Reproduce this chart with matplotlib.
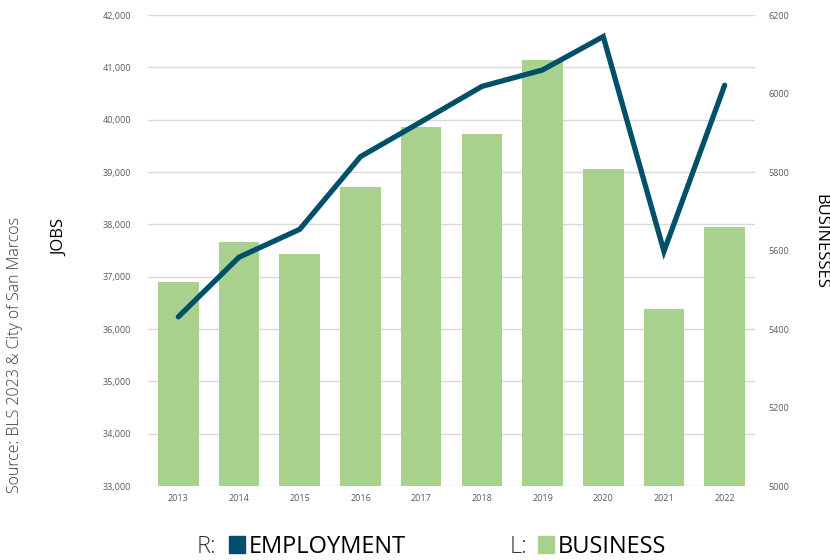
import matplotlib
matplotlib.use('Agg')
import matplotlib.pyplot as plt
from matplotlib.patches import Rectangle

plt.rcParams['font.family'] = ['Open Sans', 'DejaVu Sans']

years = ['2013', '2014', '2015', '2016', '2017', '2018', '2019', '2020', '2021', '2022']
# bars, left axis
business = [36890, 37660, 37440, 38710, 39866, 39732, 41142, 39057, 36377, 37943]
# line, right axis
employment = [5431, 5583, 5654, 5839, 5928, 6018, 6060, 6145, 5598, 6021]

bar_color = '#A9D18E'
line_color = '#00506A'
tick_color = '#595959'

fig = plt.figure(figsize=(8.3, 5.6), dpi=100)
ax = fig.add_axes([148 / 830, 1 - 486 / 560, (755 - 148) / 830, (486 - 15) / 560])
ax2 = ax.twinx()

x = range(len(years))
ax.bar(x, business, width=0.67, color=bar_color, zorder=2)
ax2.plot(x, employment, color=line_color, linewidth=3.8, solid_capstyle='round',
         solid_joinstyle='miter', zorder=3)

ax.set_xlim(-0.5, len(years) - 0.5)
ax.set_ylim(33000, 42000)
ax.set_yticks(range(33000, 42001, 1000))
ax.set_yticklabels([f'{v:,}' for v in range(33000, 42001, 1000)])
ax2.set_ylim(5000, 6200)
ax2.set_yticks(range(5000, 6201, 200))
ax.set_xticks(list(x))
ax.set_xticklabels(years)

ax.grid(axis='y', color='#D9D9D9', linewidth=1.0, zorder=0)
ax.set_axisbelow(True)
for a in (ax, ax2):
    for s in a.spines.values():
        s.set_visible(False)
ax.tick_params(axis='y', length=0, labelsize=6.5, labelcolor=tick_color, pad=12)
ax.tick_params(axis='x', length=0, labelsize=6.5, labelcolor=tick_color, pad=6)
ax2.tick_params(axis='y', length=0, labelsize=6.5, labelcolor=tick_color, pad=10)

fig.text(60 / 830, 1 - 238 / 560, 'JOBS', rotation=90, fontsize=12,
         ha='center', va='center', color='black')
fig.text(820 / 830, 1 - 241 / 560, 'BUSINESSES', rotation=270, fontsize=12,
         ha='center', va='center', color='black')
fig.text(15 / 830, 1 - 355 / 560, 'Source: BLS 2023 & City of San Marcos', rotation=90,
         fontsize=11.5, fontweight='light', ha='center', va='center', color='#3a3a3a')

# legend along the bottom
ly = 1 - 559 / 560
fig.text(197 / 830, ly, 'R:', fontsize=17, fontweight='light', color='#333333', va='bottom')
fig.patches.append(Rectangle((229 / 830, 1 - 553 / 560), 16 / 830, 17 / 560,
                             transform=fig.transFigure, color=line_color))
fig.text(249 / 830, ly, 'EMPLOYMENT', fontsize=17, color='black', va='bottom')
fig.text(510 / 830, ly, 'L:', fontsize=17, fontweight='light', color='#333333', va='bottom')
fig.patches.append(Rectangle((538 / 830, 1 - 553 / 560), 16 / 830, 17 / 560,
                             transform=fig.transFigure, color=bar_color))
fig.text(558 / 830, ly, 'BUSINESS', fontsize=17, color='black', va='bottom')

fig.savefig('out.png', dpi=100)
